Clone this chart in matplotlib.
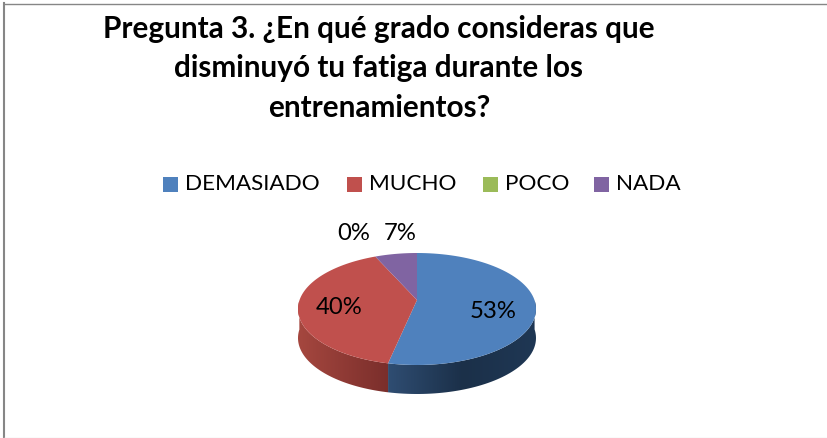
#! /usr/bin/env python3

import numpy as np
import matplotlib
matplotlib.use('Agg')
import matplotlib.pyplot as plt
from matplotlib.patches import Polygon, Rectangle
from matplotlib.colors import LinearSegmentedColormap

title_lines = ['Pregunta 3. ¿En qué grado consideras que',
               'disminuyó tu fatiga durante los',
               'entrenamientos?']
categories = ['DEMASIADO', 'MUCHO', 'POCO', 'NADA']
counts = [8, 6, 0, 1]
colors = ['#4f81bd', '#c0504d', '#9bbb59', '#8064a2']
side_ramps = [['#2f4d72', '#1b3049', '#1f3754'], ['#a5473f', '#7a2e2b']]

plt.rcParams['font.family'] = ['Lato', 'DejaVu Sans']

# ellipse of the pie top, in picture pixels
cx, cy, rx, ry = 417, 309, 119, 56
depth = 29
tilt = 0.16


def project(theta):
    # perspective: keeps the circle, moves the apex up
    x, y = np.sin(theta), np.cos(theta)
    d = 1 + tilt * y
    return cx + rx * x * np.sqrt(1 - tilt ** 2) / d, cy - ry * (y + tilt) / d


def wedge_points(start, stop):
    px, py = project(np.linspace(start, stop, 80))
    ax0, ay0 = project(0.0)[0], cy - ry * tilt
    return np.column_stack([np.r_[ax0, px], np.r_[ay0, py]])


fig = plt.figure(figsize=(8.28, 4.38), dpi=100)
ax = fig.add_axes([0, 0, 1, 1])
ax.set_xlim(0, 828)
ax.set_ylim(438, 0)
ax.axis('off')

# frame
ax.plot([4, 4], [437, 3], color='#868686', lw=1.5)
ax.plot([4, 828], [3.5, 3.5], color='#868686', lw=1)
ax.plot([4.5, 828], [437.5, 437.5], color='#e8e8e8', lw=1)

for i, line in enumerate(title_lines):
    ax.text(379, [29, 68, 108][i], line, ha='center', va='center',
            fontsize=21.4, fontweight='bold', color='black')

# legend
legend_x = [163, 347, 483, 594]
for name, color, lx in zip(categories, colors, legend_x):
    ax.add_patch(Rectangle((lx, 177), 15, 15, color=color, lw=0))
    ax.text(lx + 22, 184, name, va='center', fontsize=16.2, color='black')

# pie
fractions = np.array(counts) / sum(counts)
edges = np.r_[0, np.cumsum(fractions)] * 2 * np.pi

# side wall, only the front half is visible
for k in range(2):
    start, stop = edges[k], edges[k + 1]
    t = np.linspace(start, stop, 120)
    t = t[(np.cos(t) <= 0)]
    px, py = project(t)
    wall = np.column_stack([np.r_[px, px[::-1]], np.r_[py, py[::-1] + depth]])
    cmap = LinearSegmentedColormap.from_list('side', side_ramps[k])
    grad = np.linspace(0, 1, 128).reshape(1, -1)
    im = ax.imshow(grad, extent=(px.min(), px.max(), 438, 0), cmap=cmap,
                   aspect='auto', zorder=2)
    im.set_clip_path(Polygon(wall, closed=True, transform=ax.transData))
ax.set_xlim(0, 828)
ax.set_ylim(438, 0)

for k, color in enumerate(colors):
    if counts[k] == 0:
        continue
    ax.add_patch(Polygon(wedge_points(edges[k], edges[k + 1]), closed=True,
                         facecolor=color, edgecolor='none', zorder=3))

# percent labels
label_xy = [(493, 311), (339, 308), (354, 234), (400, 234)]
for c, (lx, ly) in zip(counts, label_xy):
    ax.text(lx, ly, '%d%%' % round(100 * c / sum(counts)), ha='center', va='center',
            fontsize=17.2, color='black', zorder=4)

fig.savefig('out.png', dpi=100)
